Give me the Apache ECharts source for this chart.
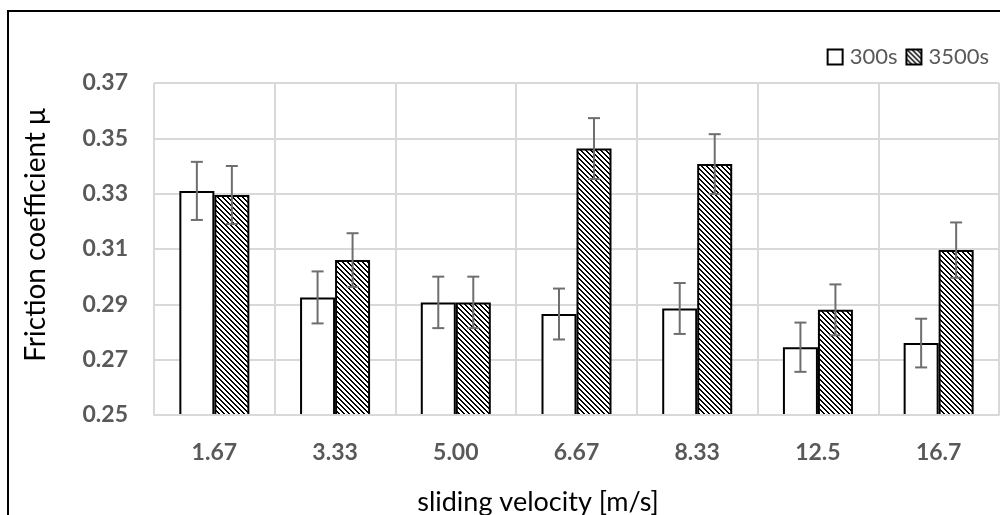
<!DOCTYPE html>
<html>
<head>
<meta charset="utf-8">
<script src="https://cdn.jsdelivr.net/npm/echarts@6/dist/echarts.min.js"></script>
<style>
  html, body { margin: 0; padding: 0; background: #fff; }
  #main { width: 1000px; height: 515px; }
</style>
</head>
<body>
<div id="main"></div>
<script>
// sliding velocity categories [m/s]
var categories = ['1.67', '3.33', '5.00', '6.67', '8.33', '12.5', '16.7'];
// friction coefficient after 300 s and 3500 s
var mean300 = [0.331, 0.2925, 0.2907, 0.2865, 0.2885, 0.2745, 0.276];
var mean3500 = [0.3295, 0.306, 0.2907, 0.3463, 0.3407, 0.288, 0.3096];
// error bar half-widths
var err300 = [0.0105, 0.0094, 0.0093, 0.0092, 0.0092, 0.0089, 0.0088];
var err3500 = [0.0105, 0.0097, 0.0093, 0.011, 0.0108, 0.0092, 0.01];
// y axis ticks
var yMin = 0.25, yMax = 0.37, yStep = 0.02;

var barWidth = 35;
var font = 'Lato, "Open Sans", sans-serif';

// diagonal hatch fill, stripes running top-left to bottom-right
function makeHatch() {
    var size = 10;
    var cv = document.createElement('canvas');
    cv.width = size;
    cv.height = size;
    var ctx = cv.getContext('2d');
    var img = ctx.createImageData(size, size);
    for (var y = 0; y < size; y++) {
        for (var x = 0; x < size; x++) {
            var k = (((x - y) % 5) + 5) % 5;
            var v = k < 2 ? 0 : 255;
            var i = (y * size + x) * 4;
            img.data[i] = v;
            img.data[i + 1] = v;
            img.data[i + 2] = v;
            img.data[i + 3] = 255;
        }
    }
    ctx.putImageData(img, 0, 0);
    return cv;
}

function errData(means, errs) {
    return means.map(function(m, i) {
        return [i, m - errs[i], m + errs[i]];
    });
}

function errRender(offset) {
    return function(params, api) {
        var idx = api.value(0);
        var lo = api.coord([idx, api.value(1)]);
        var hi = api.coord([idx, api.value(2)]);
        var x = lo[0] + offset;
        var cap = 6;
        var style = { stroke: '#6e6e6e', lineWidth: 2 };
        return {
            type: 'group',
            children: [
                { type: 'line', shape: { x1: x, y1: lo[1], x2: x, y2: hi[1] }, style: style },
                { type: 'line', shape: { x1: x - cap, y1: lo[1], x2: x + cap, y2: lo[1] }, style: style },
                { type: 'line', shape: { x1: x - cap, y1: hi[1], x2: x + cap, y2: hi[1] }, style: style }
            ]
        };
    };
}

var chart = echarts.init(document.getElementById('main'));

var option = {
    animation: false,
    backgroundColor: '#fff',
    textStyle: { fontFamily: font },
    grid: {
        left: 154,
        right: 1,
        top: 83,
        bottom: 100
    },
    legend: {
        data: ['300s', '3500s'],
        icon: 'rect',
        right: 6,
        top: 41,
        itemWidth: 15,
        itemHeight: 15,
        itemGap: 8,
        textStyle: { fontSize: 22, color: '#595959', fontFamily: font, padding: [0, 0, 0, 2] }
    },
    graphic: [{
        type: 'rect',
        shape: { x: 8, y: 11, width: 1200, height: 800 },
        style: { fill: 'none', stroke: '#000', lineWidth: 2 },
        silent: true
    }, {
        type: 'text',
        x: 538,
        y: 502,
        style: {
            text: 'sliding velocity [m/s]',
            fontSize: 27,
            fontFamily: font,
            fill: '#000',
            align: 'center',
            verticalAlign: 'middle'
        }
    }],
    xAxis: {
        type: 'category',
        data: categories,
        z: 5,
        axisLine: { lineStyle: { color: '#d9d9d9', width: 2 } },
        axisTick: { show: false },
        splitLine: { show: true, lineStyle: { color: '#d9d9d9', width: 2 } },
        axisLabel: {
            margin: 26,
            fontSize: 23,
            fontWeight: 'bold',
            color: '#595959',
            fontFamily: font
        }
    },
    yAxis: {
        type: 'value',
        min: yMin,
        max: yMax,
        interval: yStep,
        name: 'Friction coefficient μ',
        nameLocation: 'middle',
        nameGap: 104,
        nameTextStyle: { fontSize: 28, color: '#000', fontFamily: font, padding: [0, 0, 0, 28] },
        axisLine: { show: false },
        axisTick: { show: false },
        splitLine: { lineStyle: { color: '#d9d9d9', width: 2 } },
        axisLabel: {
            margin: 26,
            fontSize: 23,
            fontWeight: 'bold',
            color: '#595959',
            fontFamily: font,
            formatter: function(v) { return v.toFixed(2); }
        }
    },
    series: [{
        name: '300s',
        type: 'bar',
        data: mean300,
        barWidth: barWidth,
        barGap: '0%',
        itemStyle: { color: '#fff', borderColor: '#000', borderWidth: 2 }
    }, {
        name: '3500s',
        type: 'bar',
        data: mean3500,
        barWidth: barWidth,
        barGap: '0%',
        itemStyle: {
            color: { image: makeHatch(), repeat: 'repeat' },
            borderColor: '#000',
            borderWidth: 2
        }
    }, {
        name: 'err300',
        type: 'custom',
        renderItem: errRender(-barWidth / 2),
        data: errData(mean300, err300),
        encode: { x: 0, y: [1, 2] },
        z: 10
    }, {
        name: 'err3500',
        type: 'custom',
        renderItem: errRender(barWidth / 2),
        data: errData(mean3500, err3500),
        encode: { x: 0, y: [1, 2] },
        z: 10
    }]
};

chart.setOption(option);
</script>
</body>
</html>
